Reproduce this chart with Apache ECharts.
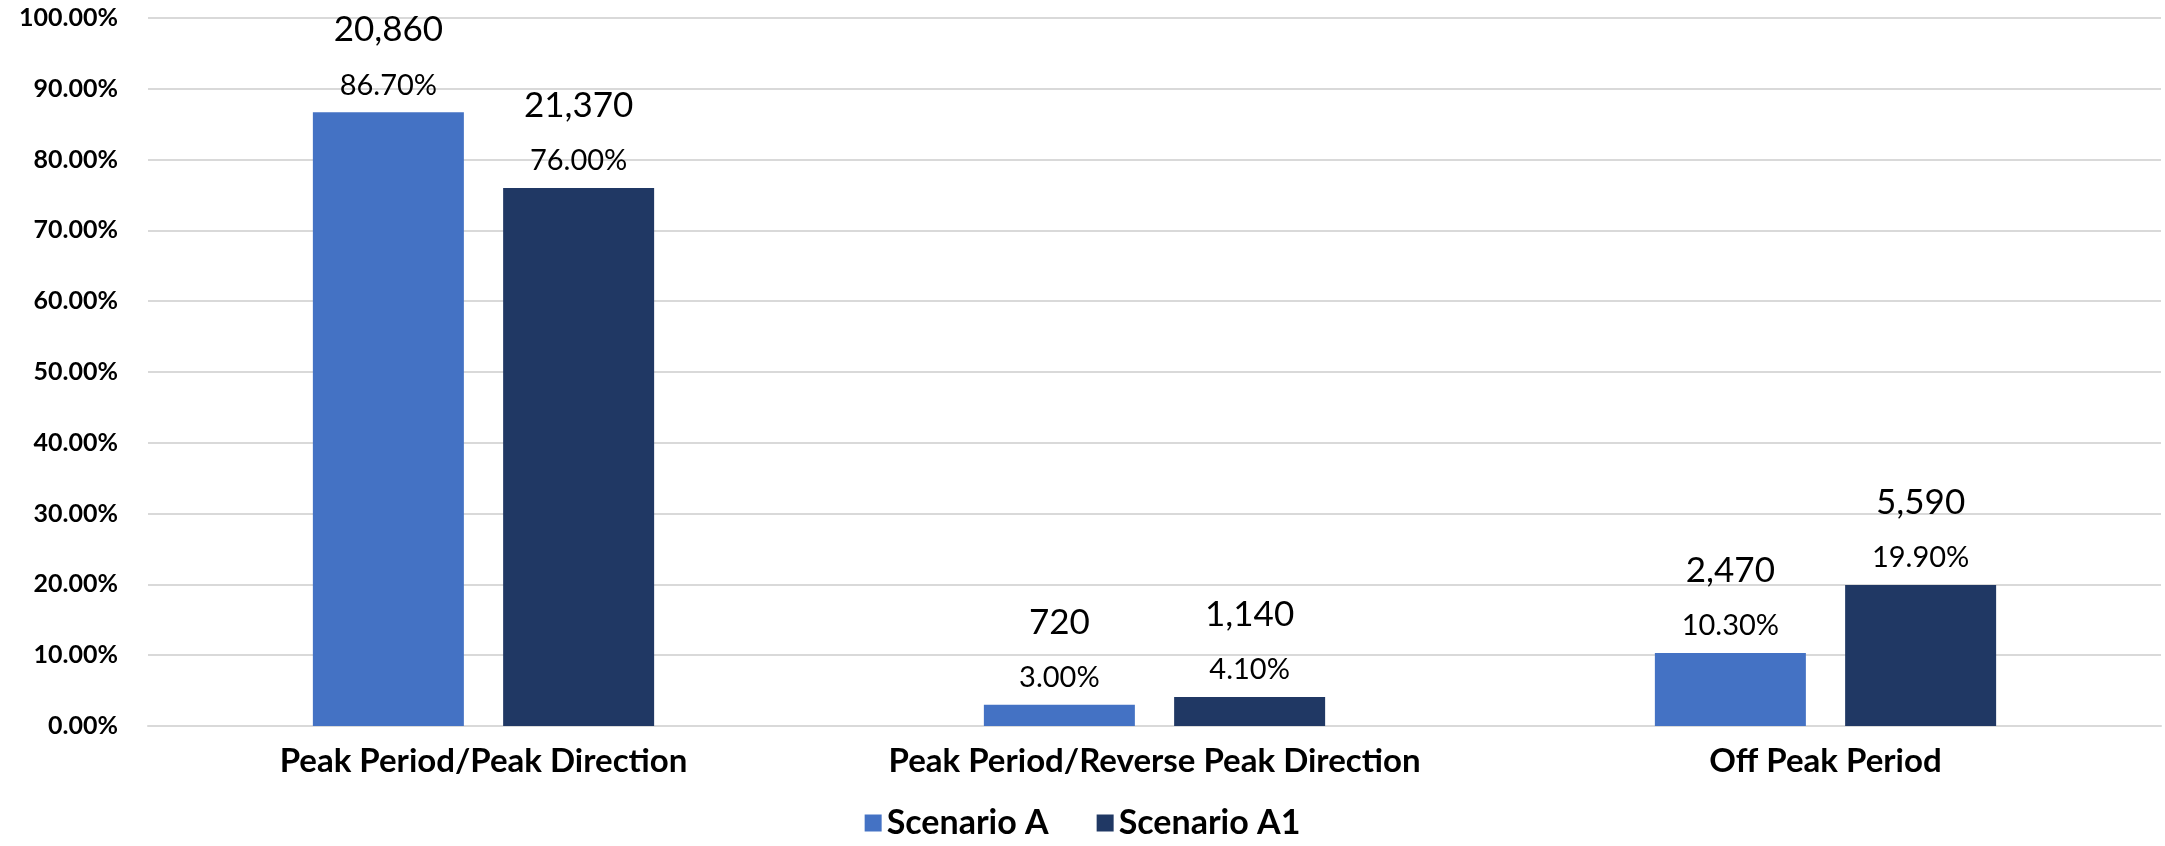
<!DOCTYPE html>
<html>
<head>
<meta charset="utf-8">
<script src="https://cdn.jsdelivr.net/npm/echarts@6/dist/echarts.min.js"></script>
<style>
html,body{margin:0;padding:0;background:#fff;}
#chart{width:2165px;height:846px;}
</style>
</head>
<body>
<div id="chart"></div>
<script>
const categories = ['Peak Period/Peak Direction', 'Peak Period/Reverse Peak Direction', 'Off Peak Period'];
const seriesNames = ['Scenario A', 'Scenario A1'];
const shareA = [86.7, 3.0, 10.3];
const shareA1 = [76.0, 4.1, 19.9];
const countA = [20860, 720, 2470];
const countA1 = [21370, 1140, 5590];
const yTicks = { min: 0, max: 100, interval: 10 };

const FONT = 'Lato, "Open Sans", sans-serif';
const fmtCount = v => v.toLocaleString('en-US');

function makeSeries(name, shares, counts, color) {
  return {
    name: name,
    type: 'bar',
    data: shares,
    barWidth: 151,
    barGap: '26%',
    itemStyle: { color: color },
    label: {
      show: true,
      position: 'top',
      distance: 8,
      fontFamily: FONT,
      formatter: p => '{n|' + fmtCount(counts[p.dataIndex]) + '}\n{p|' + p.value.toFixed(2) + '%}',
      rich: {
        n: { fontSize: 35, lineHeight: 72, color: '#000', fontFamily: FONT, align: 'center' },
        p: { fontSize: 29, lineHeight: 38, color: '#000', fontFamily: FONT, align: 'center' }
      }
    }
  };
}

const chart = echarts.init(document.getElementById('chart'), null, { renderer: 'canvas' });
chart.setOption({
  backgroundColor: '#ffffff',
  animation: false,
  grid: { left: 148, right: 4, top: 18, bottom: 120, containLabel: false },
  legend: {
    data: seriesNames,
    bottom: 1,
    left: 'center',
    itemWidth: 17,
    itemHeight: 17,
    itemGap: 48,
    icon: 'rect',
    textStyle: { fontFamily: FONT, fontWeight: 'bold', fontSize: 34, color: '#000' }
  },
  xAxis: {
    type: 'category',
    data: categories,
    axisLine: { show: true, lineStyle: { color: '#D9D9D9', width: 2 } },
    axisTick: { show: false },
    axisLabel: { interval: 0, hideOverlap: false, fontFamily: FONT, fontWeight: 'bold', fontSize: 33, color: '#000', margin: 19 }
  },
  yAxis: {
    type: 'value',
    min: yTicks.min,
    max: yTicks.max,
    interval: yTicks.interval,
    axisLine: { show: false },
    axisTick: { show: false },
    splitLine: { lineStyle: { color: '#D9D9D9', width: 2 } },
    axisLabel: {
      fontFamily: FONT, fontWeight: 'bold', fontSize: 25, color: '#000', margin: 30,
      formatter: v => v.toFixed(2) + '%'
    }
  },
  series: [
    makeSeries(seriesNames[0], shareA, countA, '#4472C4'),
    makeSeries(seriesNames[1], shareA1, countA1, '#203864')
  ]
});
</script>
</body>
</html>
